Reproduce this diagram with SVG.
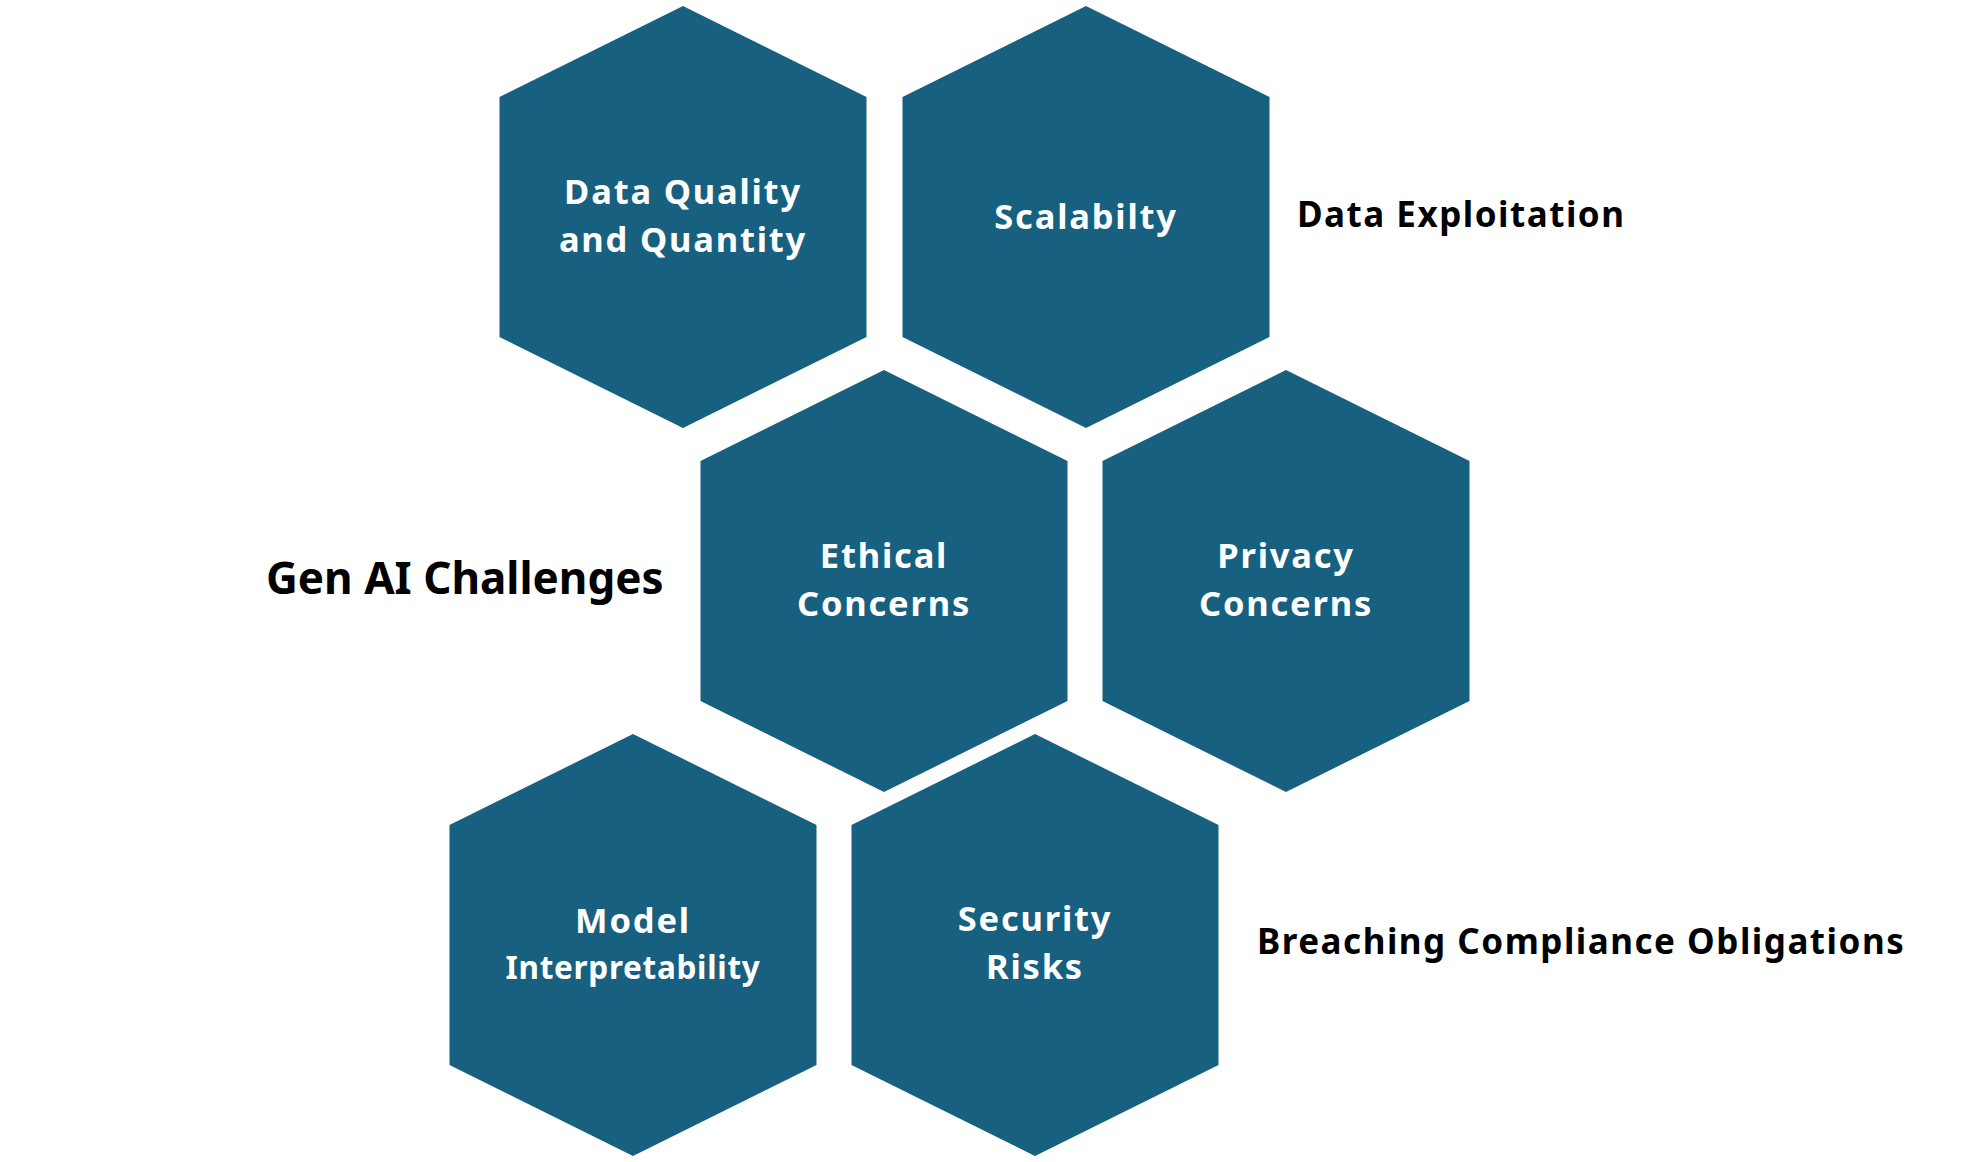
<svg xmlns="http://www.w3.org/2000/svg" width="1980" height="1162" viewBox="0 0 1980 1162">
<defs>
<style>
.hex{fill:#17607F;}
.lbl{font-family:"Noto Sans","Liberation Sans",sans-serif;font-weight:bold;font-size:34.5px;letter-spacing:1.8px;fill:#FFFFFF;text-anchor:middle;}
.sm{font-size:31.5px;letter-spacing:0.7px;}
.out{font-family:"Noto Sans","Liberation Sans",sans-serif;font-weight:bold;fill:#000000;}
</style>
<polygon id="hexshape" points="0,-211 183.5,-120 183.5,120 0,211 -183.5,120 -183.5,-120"/>
</defs>
<rect width="1980" height="1162" fill="#FFFFFF"/>
<g id="connectors"></g>
<g id="node-data-quality" transform="translate(683,217)">
<use href="#hexshape" class="hex"/>
<text class="lbl"><tspan x="0" y="-13">Data Quality</tspan><tspan x="0" y="34.5">and Quantity</tspan></text>
</g>
<g id="node-scalability" transform="translate(1086,217)">
<use href="#hexshape" class="hex"/>
<text class="lbl" x="0" y="12">Scalabilty</text>
</g>
<g id="node-ethical" transform="translate(884,581)">
<use href="#hexshape" class="hex"/>
<text class="lbl"><tspan x="0" y="-13">Ethical</tspan><tspan x="0" y="34.5">Concerns</tspan></text>
</g>
<g id="node-privacy" transform="translate(1286,581)">
<use href="#hexshape" class="hex"/>
<text class="lbl"><tspan x="0" y="-13">Privacy</tspan><tspan x="0" y="34.5">Concerns</tspan></text>
</g>
<g id="node-model" transform="translate(633,945)">
<use href="#hexshape" class="hex"/>
<text class="lbl"><tspan x="0" y="-12">Model</tspan><tspan class="sm" x="0" y="33.5">Interpretability</tspan></text>
</g>
<g id="node-security" transform="translate(1035,945)">
<use href="#hexshape" class="hex"/>
<text class="lbl"><tspan x="0" y="-14">Security</tspan><tspan x="0" y="33.5">Risks</tspan></text>
</g>
<g id="label-gen-ai">
<text class="out" x="266" y="594" font-size="44">Gen AI Challenges</text>
</g>
<g id="label-data-exploitation">
<text class="out" x="1297" y="227" font-size="35" letter-spacing="1.5">Data Exploitation</text>
</g>
<g id="label-breaching">
<text class="out" x="1257" y="954" font-size="35" letter-spacing="1.5">Breaching Compliance Obligations</text>
</g>
</svg>
